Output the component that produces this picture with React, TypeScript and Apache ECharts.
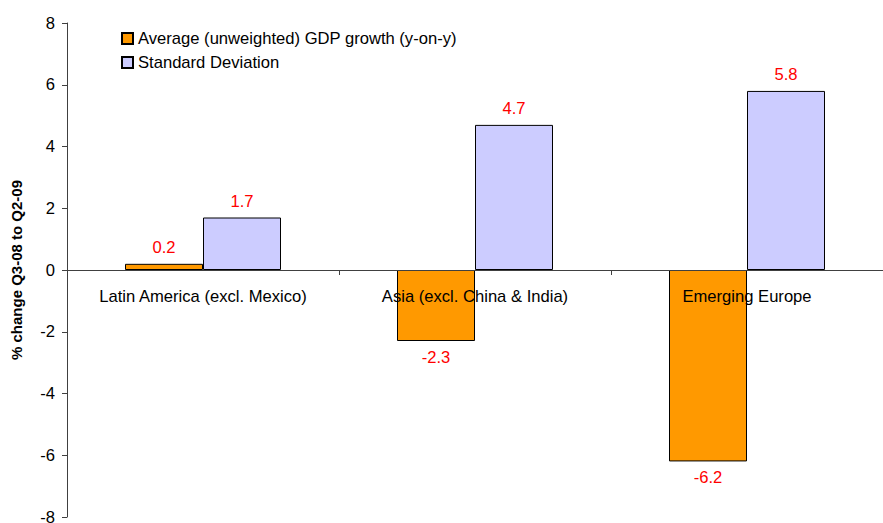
import React, { useEffect, useRef } from "react";
import * as echarts from "echarts";

const categories = ["Latin America (excl. Mexico)", "Asia (excl. China & India)", "Emerging Europe"];
const avgGrowth = [0.2, -2.3, -6.2];
const stdDev = [1.7, 4.7, 5.8];
const seriesNames = ["Average (unweighted) GDP growth (y-on-y)", "Standard Deviation"];

const FONT = "Liberation Sans, Arial, sans-serif";
const FS = 16.6;

function toData(values: number[]) {
  return values.map((v) => ({
    value: v,
    label: { position: v < 0 ? "bottom" : "top" },
  }));
}

export default function App() {
  const ref = useRef<HTMLDivElement>(null);
  useEffect(() => {
    if (!ref.current) return;
    const chart = echarts.init(ref.current, undefined, { renderer: "svg" });
    const labelStyle = {
      show: true,
      color: "#ff0000",
      fontSize: FS,
      fontFamily: FONT,
      distance: 8,
      formatter: (p: any) => Number(p.value).toFixed(1),
    };
    const gridTop = 23;
    const gridBottom = 6;
    const plotH = 523 - gridTop - gridBottom;
    chart.setOption({
      animation: false,
      textStyle: { fontFamily: FONT },
      grid: { left: 67, right: 0, top: gridTop, bottom: gridBottom, containLabel: false, outerBoundsMode: "none" },
      legend: {
        orient: "vertical",
        left: 116,
        top: 25,
        itemWidth: 11,
        itemHeight: 11,
        itemGap: 7,
        icon: "rect",
        textStyle: { fontSize: FS, lineHeight: 16, color: "#000", fontFamily: FONT },
        data: seriesNames,
      },
      xAxis: {
        type: "category",
        data: categories,
        z: 10,
        offset: -plotH / 2,
        axisLine: { onZero: false, lineStyle: { color: "#404040", width: 1 } },
        axisTick: { show: true, length: 5, inside: false, lineStyle: { color: "#404040" } },
        axisLabel: { color: "#000", fontSize: FS, fontFamily: FONT, margin: 18, interval: 0 },
        splitLine: { show: false },
      },
      yAxis: {
        type: "value",
        min: -8,
        max: 8,
        interval: 2,
        name: "% change Q3-08 to Q2-09",
        nameLocation: "middle",
        nameRotate: 90,
        nameGap: 43,
        nameTextStyle: { fontSize: 15, fontWeight: "bold", color: "#000", fontFamily: FONT },
        axisLine: { show: true, lineStyle: { color: "#404040", width: 1 } },
        axisTick: { show: true, length: 5, inside: false, lineStyle: { color: "#404040" } },
        axisLabel: { color: "#000", fontSize: FS, fontFamily: FONT, margin: 12 },
        splitLine: { show: false },
      },
      series: [
        {
          name: seriesNames[0],
          type: "bar",
          data: toData(avgGrowth),
          barWidth: 78,
          barGap: "0%",
          itemStyle: { color: "#ff9900", borderColor: "#000", borderWidth: 1 },
          label: labelStyle,
        },
        {
          name: seriesNames[1],
          type: "bar",
          data: toData(stdDev),
          barWidth: 78,
          barGap: "0%",
          itemStyle: { color: "#ccccff", borderColor: "#000", borderWidth: 1 },
          label: labelStyle,
        },
      ],
    });
    return () => chart.dispose();
  }, []);
  return <div ref={ref} style={{ width: 883, height: 523, position: "absolute", left: 0, top: 0 }} />;
}
